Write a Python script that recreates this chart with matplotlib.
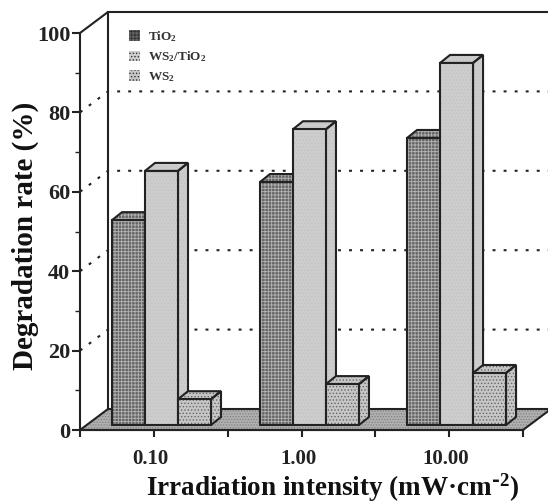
import matplotlib
matplotlib.use("Agg")
import matplotlib.pyplot as plt
from matplotlib.patches import Polygon
from matplotlib.ticker import MultipleLocator, FixedLocator
from matplotlib.transforms import ScaledTranslation

plt.rcParams['font.family'] = ['Liberation Serif', 'DejaVu Serif']
plt.rcParams['font.weight'] = 'bold'
plt.rcParams['mathtext.default'] = 'regular'
plt.rcParams['hatch.linewidth'] = 0.6

categories = ['0.10', '1.00', '10.00']
series_names = ['TiO$_2$', 'WS$_2$/TiO$_2$', 'WS$_2$']
tio2 = [51.6, 61.2, 72.3]
ws2_tio2 = [64.0, 74.5, 91.2]
ws2 = [6.5, 10.3, 13.1]
y_grid = [20, 40, 60, 80]

W, H = 548, 503
L, R, B, T = 80, 523, 430, 33
fig = plt.figure(figsize=(W / 100, H / 100), dpi=100)
ax = fig.add_axes([L / W, 1 - B / H, (R - L) / W, (B - T) / H])
ax.set_xlim(0, 3)
ax.set_ylim(0, 100)
ax.patch.set_visible(False)

ux = (R - L) / 3
uy = (B - T) / 100
wall_dx, wall_dy = 28 / ux, 21 / uy
bar_dx, bar_dy = 10 / ux, 8 / uy
bar_w = 33 / ux
base = 1.26
group_c = [0.552, 1.554, 2.55]
EDGE = '#222222'
LW = 1.5

# floor
floor = [(0, 0), (3, 0), (3 + wall_dx, wall_dy), (wall_dx, wall_dy)]
ax.add_patch(Polygon(floor, closed=True, facecolor='#b0b0b0', edgecolor='#808080', hatch='......',
                     lw=0, clip_on=False, zorder=1))
ax.add_patch(Polygon(floor, closed=True, fill=False, edgecolor=EDGE, lw=LW, clip_on=False, zorder=1.1))
# walls
ax.plot([0, wall_dx, 3 + wall_dx], [100, 100 + wall_dy, 100 + wall_dy], color=EDGE, lw=LW,
        clip_on=False, zorder=1.2)
ax.plot([wall_dx, wall_dx], [wall_dy, 100 + wall_dy], color=EDGE, lw=LW, clip_on=False, zorder=1.2)
# dotted grid
for v in y_grid:
    ax.plot([0, wall_dx, 3 + wall_dx], [v, v + wall_dy, v + wall_dy], color='#222222', lw=1.5,
            dashes=(1.4, 3.9), clip_on=False, zorder=1.3)

styles = [
    dict(face='#656565', hatch_c='#b4b4b4', hatch='+++++'),
    dict(face='#cdcdcd', hatch_c='#c2c2c2', hatch='.....'),
    dict(face='#c6c6c6', hatch_c='#666666', hatch='.....'),
]
all_series = [tio2, ws2_tio2, ws2]

z = 2
for g, c in enumerate(group_c):
    for s, vals in enumerate(all_series):
        st = styles[s]
        x0 = c + (s - 1.5) * bar_w
        x1 = x0 + bar_w
        top = base + vals[g]
        # side
        side = [(x1, base), (x1 + bar_dx, base + bar_dy), (x1 + bar_dx, top + bar_dy), (x1, top)]
        ax.add_patch(Polygon(side, closed=True, facecolor=st['face'], edgecolor=st['hatch_c'],
                             hatch=st['hatch'], lw=0, zorder=z))
        ax.add_patch(Polygon(side, closed=True, fill=False, edgecolor=EDGE, lw=LW, zorder=z + 0.1))
        # top
        tp = [(x0, top), (x1, top), (x1 + bar_dx, top + bar_dy), (x0 + bar_dx, top + bar_dy)]
        ax.add_patch(Polygon(tp, closed=True, facecolor=st['face'], edgecolor=st['hatch_c'],
                             hatch=st['hatch'], lw=0, zorder=z))
        ax.add_patch(Polygon(tp, closed=True, fill=False, edgecolor=EDGE, lw=LW, zorder=z + 0.1))
        # front
        ax.bar(x0, vals[g], width=bar_w, bottom=base, align='edge', color=st['face'],
               edgecolor=st['hatch_c'], hatch=st['hatch'], lw=0, zorder=z + 0.2,
               label=series_names[s] if g == 0 else None)
        ax.bar(x0, vals[g], width=bar_w, bottom=base, align='edge', fill=False,
               edgecolor=EDGE, lw=LW, zorder=z + 0.3)
        z += 1

# axes
for sp in ['top', 'right']:
    ax.spines[sp].set_visible(False)
for sp in ['left', 'bottom']:
    ax.spines[sp].set_linewidth(LW)
    ax.spines[sp].set_color(EDGE)
    ax.spines[sp].set_zorder(30)
ax.yaxis.set_major_locator(MultipleLocator(20))
ax.yaxis.set_minor_locator(MultipleLocator(10))
ax.tick_params(axis='y', which='major', length=6, width=LW, color=EDGE, labelsize=16, pad=1,
               labelcolor='#222222')
ax.tick_params(axis='y', which='minor', length=3.5, width=1.0, color=EDGE)
ax.xaxis.set_major_locator(FixedLocator([0.5, 1.5, 2.5]))
ax.xaxis.set_minor_locator(FixedLocator([0, 1, 2, 3]))
ax.set_xticklabels(categories)
ax.tick_params(axis='x', which='major', length=5, width=LW, color=EDGE, labelsize=15, pad=9,
               labelcolor='#222222')
ax.tick_params(axis='x', which='minor', length=5, width=LW, color=EDGE)
shift = ScaledTranslation(-3.5 / 100, 0, fig.dpi_scale_trans)
for lab in ax.get_xticklabels():
    lab.set_transform(lab.get_transform() + shift)

fig.text(25 / W, 1 - 236 / H, 'Degradation rate (%)', rotation=90, ha='center', va='center',
         fontsize=21, color='#111111')
fig.text(333 / W, 1 - 496 / H, 'Irradiation intensity (mW·cm$^{\\text{-}2}$)', ha='center', va='baseline',
         fontsize=19.5, color='#111111')

h, l = ax.get_legend_handles_labels()
leg = ax.legend(h, l, loc='upper left', bbox_to_anchor=(129 / W, 1 - 29 / H),
                bbox_transform=fig.transFigure, frameon=False, fontsize=9.5,
                handlelength=0.85, handleheight=0.85, handletextpad=0.6, labelspacing=0.44,
                borderaxespad=0, borderpad=0)
for t in leg.get_texts():
    t.set_color('#333333')
for p in leg.get_patches():
    p.set_edgecolor('#333333')

fig.savefig('out.png', dpi=100)
